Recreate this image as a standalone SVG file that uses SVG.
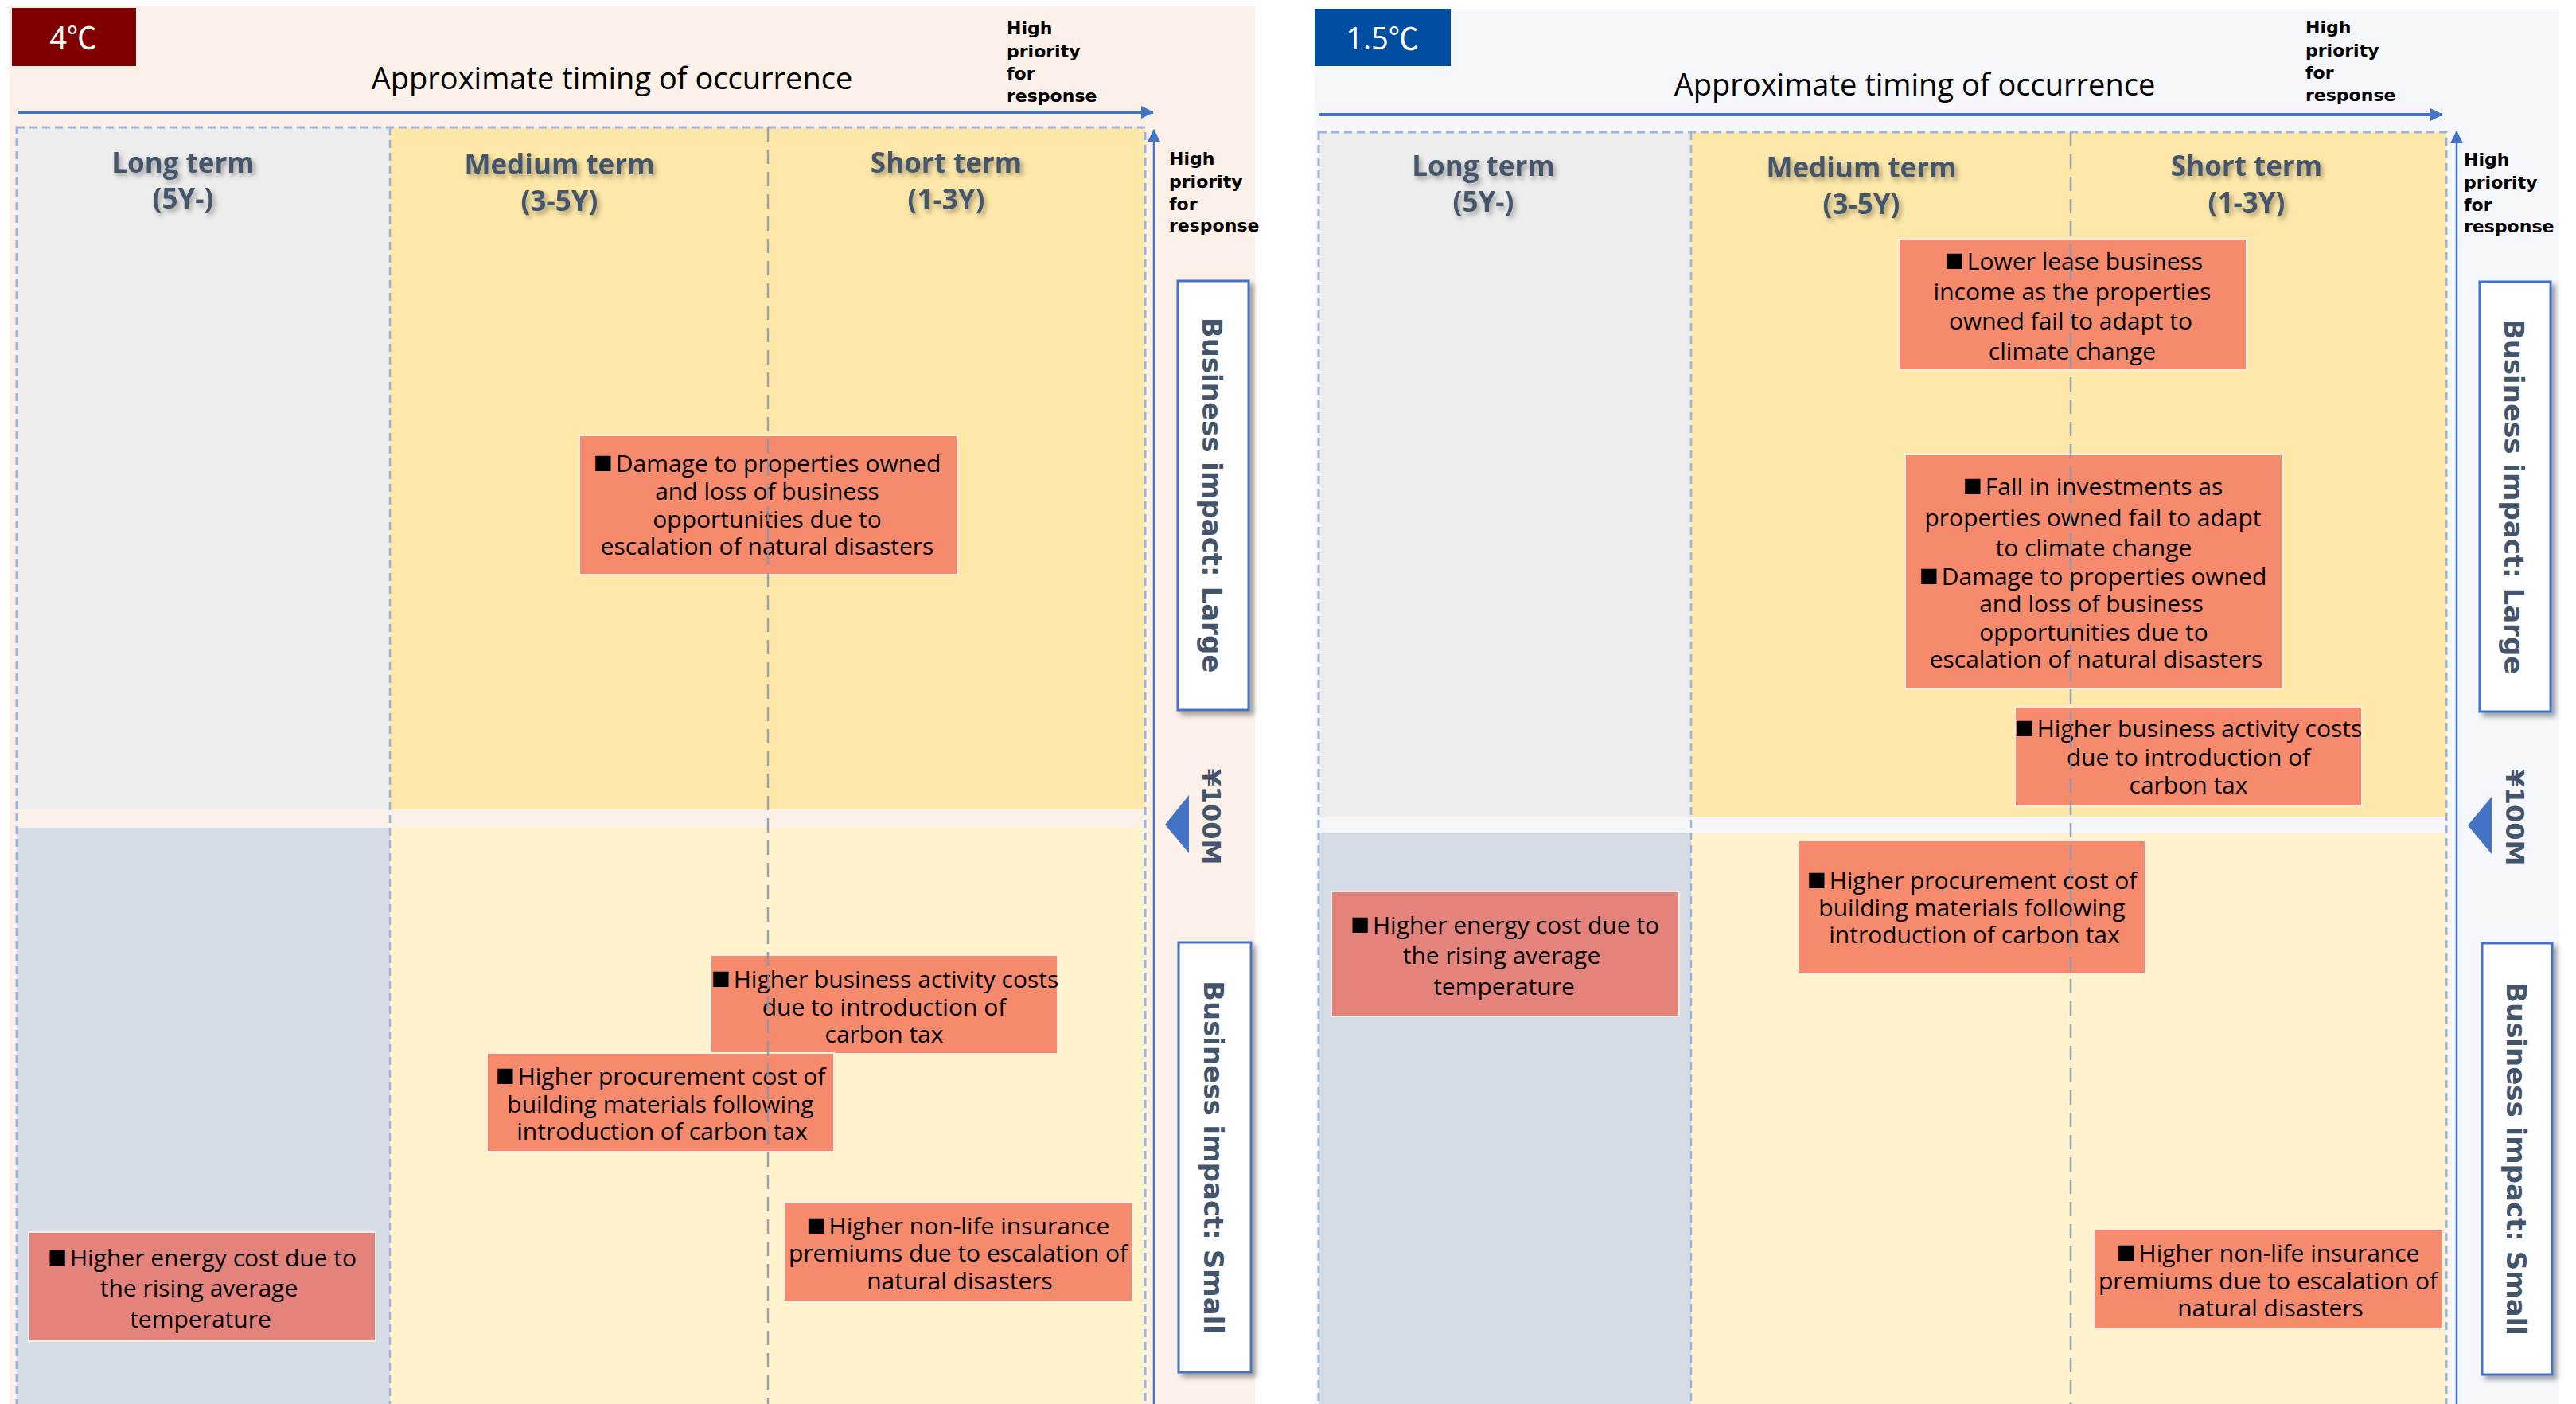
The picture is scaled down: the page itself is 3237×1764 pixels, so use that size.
<svg xmlns="http://www.w3.org/2000/svg" width="3237" height="1764" viewBox="0 0 3237 1764">
<defs>
<style>
.bx rect{stroke:#FDEEE6;stroke-width:2}
.s1{fill:#F58A6D}
.s2{fill:#E4837C}
.bx text{font-family:"Open Sans","Noto Sans CJK JP",sans-serif;font-size:30px;fill:#000;text-anchor:middle}
.sq{font-family:"Noto Sans CJK JP","DejaVu Sans",sans-serif;font-size:24px}
.hdr{font-family:"Open Sans","Liberation Sans",sans-serif;font-weight:700;font-size:35px;fill:#44546A;text-anchor:middle;filter:url(#ts)}
.hp{font-family:"DejaVu Sans",sans-serif;font-weight:700;font-size:22px;fill:#000}
.ttl{font-family:"Open Sans","Liberation Sans",sans-serif;font-size:38px;fill:#000;text-anchor:middle}
.bdg{font-family:"Open Sans","Noto Sans CJK JP",sans-serif;font-size:38px;fill:#fff;text-anchor:middle}
.bi{font-family:"DejaVu Sans",sans-serif;font-weight:700;font-size:34px;fill:#44546A;text-anchor:middle;dominant-baseline:central}
.bib{fill:#fff;stroke:#4472C4;stroke-width:3;filter:url(#bs)}
.ob{fill:none;stroke:#9DB3DE;stroke-width:3;stroke-dasharray:10 6}
.d1{stroke:#9DB3DE;stroke-width:2.5;stroke-dasharray:10 6}
.d2{stroke:#8497B0;stroke-width:2.5;stroke-dasharray:18 10;opacity:.85}
.ax{stroke:#4472C4;fill:none}
</style>
<filter id="ts" x="-20%" y="-40%" width="140%" height="180%"><feDropShadow dx="3" dy="4" stdDeviation="3" flood-color="#000" flood-opacity="0.35"/></filter>
<filter id="bs" x="-20%" y="-10%" width="150%" height="120%"><feDropShadow dx="5" dy="5" stdDeviation="3" flood-color="#000" flood-opacity="0.35"/></filter>
<marker id="ah" viewBox="0 0 16 16" refX="15" refY="8" markerWidth="16" markerHeight="16" markerUnits="userSpaceOnUse" orient="auto"><path d="M0,0 L16,8 L0,16 z" fill="#4472C4"/></marker>
</defs>
<rect width="3237" height="1764" fill="#fff"/>

<!-- LEFT PANEL 4℃ -->
<g id="panel-4c">
<rect x="12" y="7" width="1565" height="1757" fill="#FCF1E9"/>
<rect x="21" y="160" width="469" height="857" fill="#EDEDED"/>
<rect x="490" y="160" width="949" height="857" fill="#FEE8A9"/>
<rect x="21" y="1040" width="469" height="724" fill="#D6DCE5"/>
<rect x="490" y="1040" width="949" height="724" fill="#FFF2CC"/>
</g>
<g id="badge-4c"><rect x="15" y="10" width="156" height="73" fill="#800000"/><text class="bdg" x="92" y="61">4℃</text></g>
<g id="title-4c"><text class="ttl" x="769" y="112">Approximate timing of occurrence</text></g>
<g id="hp-top-4c"><text class="hp" x="1265" y="43">High</text><text class="hp" x="1265" y="72">priority</text><text class="hp" x="1265" y="100">for</text><text class="hp" x="1265" y="128">response</text></g>
<g id="hp-side-4c"><text class="hp" x="1469" y="207">High</text><text class="hp" x="1469" y="236">priority</text><text class="hp" x="1469" y="264">for</text><text class="hp" x="1469" y="291">response</text></g>
<g id="hdr-4c">
<text class="hdr" x="230" y="217">Long term</text><text class="hdr" x="230" y="262">(5Y-)</text>
<text class="hdr" x="703" y="219">Medium term</text><text class="hdr" x="703" y="265">(3-5Y)</text>
<text class="hdr" x="1189" y="217">Short term</text><text class="hdr" x="1189" y="263">(1-3Y)</text>
</g>
<g id="bi-large-4c"><rect class="bib" x="1480" y="353" width="89" height="539"/><text class="bi" transform="translate(1523,622) rotate(90)">Business impact: Large</text></g>
<g id="bi-small-4c"><rect class="bib" x="1481" y="1184" width="91" height="540"/><text class="bi" transform="translate(1525,1454) rotate(90)">Business impact: Small</text></g>
<g id="yen-4c"><polygon points="1464,1036 1494,999 1494,1072" fill="#4472C4"/><text class="bi" style="font-size:32px" transform="translate(1522,1026) rotate(90)">¥100M</text></g>

<g id="b4-damage" class="bx"><rect class="s1" x="728" y="547" width="476" height="175"/>
<text x="964" y="593"><tspan class="sq" dy="-2">■</tspan><tspan dx="4" dy="2">Damage to properties owned</tspan></text><text x="964" y="628">and loss of business</text><text x="964" y="663">opportunities due to</text><text x="964" y="697">escalation of natural disasters</text></g>
<g id="b4-activity" class="bx"><rect class="s1" x="893" y="1200" width="436" height="124"/>
<text x="1112" y="1241"><tspan class="sq" dy="-2">■</tspan><tspan dx="4" dy="2">Higher business activity costs</tspan></text><text x="1111" y="1276">due to introduction of</text><text x="1111" y="1310">carbon tax</text></g>
<g id="b4-procure" class="bx"><rect class="s1" x="612" y="1323" width="436" height="124"/>
<text x="830" y="1363"><tspan class="sq" dy="-2">■</tspan><tspan dx="4" dy="2">Higher procurement cost of</tspan></text><text x="830" y="1398">building materials following</text><text x="832" y="1432">introduction of carbon tax</text></g>
<g id="b4-insurance" class="bx"><rect class="s1" x="985" y="1511" width="438" height="124"/>
<text x="1204" y="1551"><tspan class="sq" dy="-2">■</tspan><tspan dx="4" dy="2">Higher non-life insurance</tspan></text><text x="1204" y="1585">premiums due to escalation of</text><text x="1206" y="1620">natural disasters</text></g>
<g id="b4-energy" class="bx"><rect class="s2" x="36" y="1548" width="436" height="137"/>
<text x="254" y="1591"><tspan class="sq" dy="-2">■</tspan><tspan dx="4" dy="2">Higher energy cost due to</tspan></text><text x="250" y="1629">the rising average</text><text x="252" y="1668">temperature</text></g>

<g id="grid-4c">
<rect class="ob" x="21" y="160" width="1418" height="1610"/>
<line class="d1" x1="490" y1="160" x2="490" y2="1764"/>
<line class="d2" x1="965" y1="160" x2="965" y2="1764"/>
</g>

<!-- RIGHT PANEL 1.5℃ -->
<g id="panel-15c">
<rect x="1652" y="11" width="1564" height="1753" fill="#F5F7FB"/>
<rect x="1657" y="166" width="468" height="860" fill="#EDEDED"/>
<rect x="2125" y="166" width="949" height="860" fill="#FEE8A9"/>
<rect x="1657" y="1047" width="468" height="717" fill="#D6DCE5"/>
<rect x="2125" y="1047" width="949" height="717" fill="#FFF2CC"/>
</g>
<g id="badge-15c"><rect x="1652" y="11" width="171" height="72" fill="#004EA2"/><text class="bdg" x="1737" y="62">1.5℃</text></g>
<g id="title-15c"><text class="ttl" x="2406" y="120">Approximate timing of occurrence</text></g>
<g id="hp-top-15c"><text class="hp" x="2897" y="42">High</text><text class="hp" x="2897" y="71">priority</text><text class="hp" x="2897" y="99">for</text><text class="hp" x="2897" y="127">response</text></g>
<g id="hp-side-15c"><text class="hp" x="3096" y="208">High</text><text class="hp" x="3096" y="237">priority</text><text class="hp" x="3096" y="265">for</text><text class="hp" x="3096" y="292">response</text></g>
<g id="hdr-15c">
<text class="hdr" x="1864" y="221">Long term</text><text class="hdr" x="1864" y="266">(5Y-)</text>
<text class="hdr" x="2339" y="223">Medium term</text><text class="hdr" x="2339" y="269">(3-5Y)</text>
<text class="hdr" x="2823" y="221">Short term</text><text class="hdr" x="2823" y="267">(1-3Y)</text>
</g>
<g id="bi-large-15c"><rect class="bib" x="3116" y="354" width="89" height="540"/><text class="bi" transform="translate(3159,624) rotate(90)">Business impact: Large</text></g>
<g id="bi-small-15c"><rect class="bib" x="3119" y="1185" width="88" height="542"/><text class="bi" transform="translate(3162,1456) rotate(90)">Business impact: Small</text></g>
<g id="yen-15c"><polygon points="3101,1037 3131,1001 3131,1073" fill="#4472C4"/><text class="bi" style="font-size:32px" transform="translate(3160,1027) rotate(90)">¥100M</text></g>

<g id="b15-lease" class="bx"><rect class="s1" x="2386" y="300" width="437" height="165"/>
<text x="2606" y="339"><tspan class="sq" dy="-2">■</tspan><tspan dx="4" dy="2">Lower lease business</tspan></text><text x="2604" y="377">income as the properties</text><text x="2602" y="414">owned fail to adapt to</text><text x="2604" y="452">climate change</text></g>
<g id="b15-invest" class="bx"><rect class="s1" x="2394" y="571" width="474" height="294"/>
<text x="2630" y="622"><tspan class="sq" dy="-2">■</tspan><tspan dx="4" dy="2">Fall in investments as</tspan></text><text x="2630" y="661">properties owned fail to adapt</text><text x="2631" y="699">to climate change</text><text x="2630" y="735"><tspan class="sq" dy="-2">■</tspan><tspan dx="4" dy="2">Damage to properties owned</tspan></text><text x="2628" y="769">and loss of business</text><text x="2631" y="805">opportunities due to</text><text x="2634" y="839">escalation of natural disasters</text></g>
<g id="b15-activity" class="bx"><rect class="s1" x="2532" y="888" width="436" height="125"/>
<text x="2750" y="926"><tspan class="sq" dy="-2">■</tspan><tspan dx="4" dy="2">Higher business activity costs</tspan></text><text x="2750" y="962">due to introduction of</text><text x="2750" y="997">carbon tax</text></g>
<g id="b15-procure" class="bx"><rect class="s1" x="2259" y="1056" width="437" height="167"/>
<text x="2478" y="1117"><tspan class="sq" dy="-2">■</tspan><tspan dx="4" dy="2">Higher procurement cost of</tspan></text><text x="2478" y="1151">building materials following</text><text x="2481" y="1185">introduction of carbon tax</text></g>
<g id="b15-energy" class="bx"><rect class="s2" x="1673" y="1120" width="437" height="157"/>
<text x="1891" y="1173"><tspan class="sq" dy="-2">■</tspan><tspan dx="4" dy="2">Higher energy cost due to</tspan></text><text x="1887" y="1211">the rising average</text><text x="1890" y="1250">temperature</text></g>
<g id="b15-insurance" class="bx"><rect class="s1" x="2631" y="1545" width="439" height="125"/>
<text x="2850" y="1585"><tspan class="sq" dy="-2">■</tspan><tspan dx="4" dy="2">Higher non-life insurance</tspan></text><text x="2850" y="1620">premiums due to escalation of</text><text x="2853" y="1654">natural disasters</text></g>

<g id="grid-15c">
<rect class="ob" x="1657" y="166" width="1417" height="1604"/>
<line class="d1" x1="2125" y1="166" x2="2125" y2="1764"/>
<line class="d2" x1="2602" y1="166" x2="2602" y2="1764"/>
</g>

<g id="connectors">
<line class="ax" x1="22" y1="141" x2="1449" y2="141" stroke-width="4" marker-end="url(#ah)"/>
<line class="ax" x1="1450" y1="1764" x2="1450" y2="163" stroke-width="2.5" marker-end="url(#ah)"/>
<line class="ax" x1="1657" y1="144" x2="3069" y2="144" stroke-width="4" marker-end="url(#ah)"/>
<line class="ax" x1="3087" y1="1764" x2="3087" y2="165" stroke-width="2.5" marker-end="url(#ah)"/>
</g>
</svg>
